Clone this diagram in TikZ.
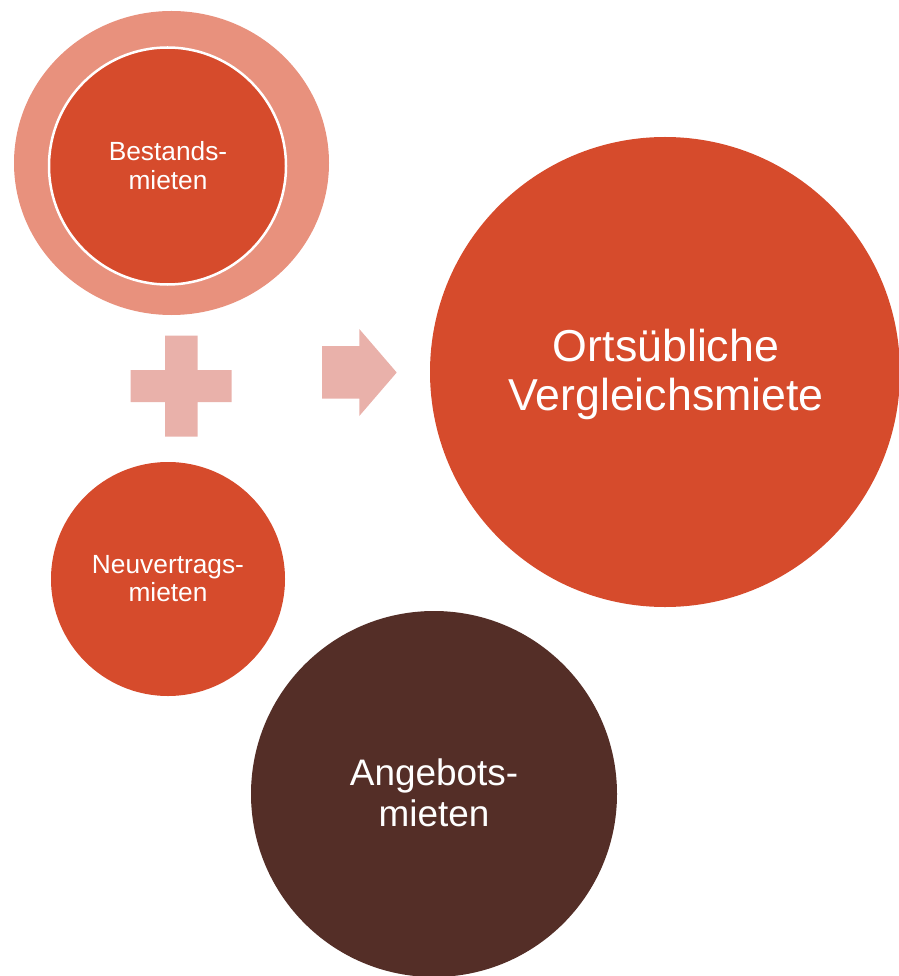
\documentclass[tikz,border=0pt]{standalone}
\usepackage{fontspec}
\usetikzlibrary{shapes.geometric}
\setmainfont{Liberation Sans}
\definecolor{mainred}{HTML}{D64B2C}
\definecolor{ringred}{HTML}{E8917D}
\definecolor{lightpink}{HTML}{E9B1AA}
\definecolor{darkbrown}{HTML}{542E27}
\tikzset{
  disc/.style={circle, inner sep=0pt, outer sep=0pt},
  lbl/.style={text=white, align=center, anchor=base, inner sep=0pt},
  deco/.style={fill=lightpink, draw=none}
}
\begin{document}
\begin{tikzpicture}[x=1pt, y=-1pt]
\useasboundingbox (0,0) rectangle (898,976);
% top-left ring
\node[ellipse, inner sep=0pt, outer sep=0pt, fill=ringred, minimum width=315pt, minimum height=304pt] (outer) at (171.5,163) {};
\node[disc, fill=mainred, draw=white, line width=2.5pt, minimum size=237pt] (inner) at (167.5,166) {};
\node[lbl, font=\fontsize{26.3}{28.6}\selectfont] (tbest) at (168,189.3) {Bestands-\\mieten};
% big circle
\node[disc, fill=mainred, minimum size=470pt] (big) at (665,372) {};
\node[lbl, font=\fontsize{44.7}{48.3}\selectfont] (tort) at (666,410) {Ortsübliche\\Vergleichsmiete};
% Neuvertrags
\node[disc, fill=mainred, minimum size=234pt] (neu) at (168,579) {};
\node[lbl, font=\fontsize{26.3}{28.7}\selectfont] (tneu) at (168,601.7) {Neuvertrags-\\mieten};
% Angebots
\node[disc, fill=darkbrown, minimum size=366pt] (ang) at (434,794) {};
\node[lbl, font=\fontsize{36.9}{41}\selectfont] (tang) at (434,826.7) {Angebots-\\mieten};
% plus sign
\fill[deco] (165,335.7) -- (197.7,335.7) -- (197.7,370) -- (231.7,370) -- (231.7,402)
  -- (197.7,402) -- (197.7,436.7) -- (165,436.7) -- (165,402) -- (130.7,402)
  -- (130.7,370) -- (165,370) -- cycle;
% arrow
\fill[deco] (322,346) -- (359.3,346) -- (359.3,329) -- (396.7,372.5) -- (359.3,416)
  -- (359.3,398.7) -- (322,398.7) -- cycle;
\end{tikzpicture}
\end{document}
